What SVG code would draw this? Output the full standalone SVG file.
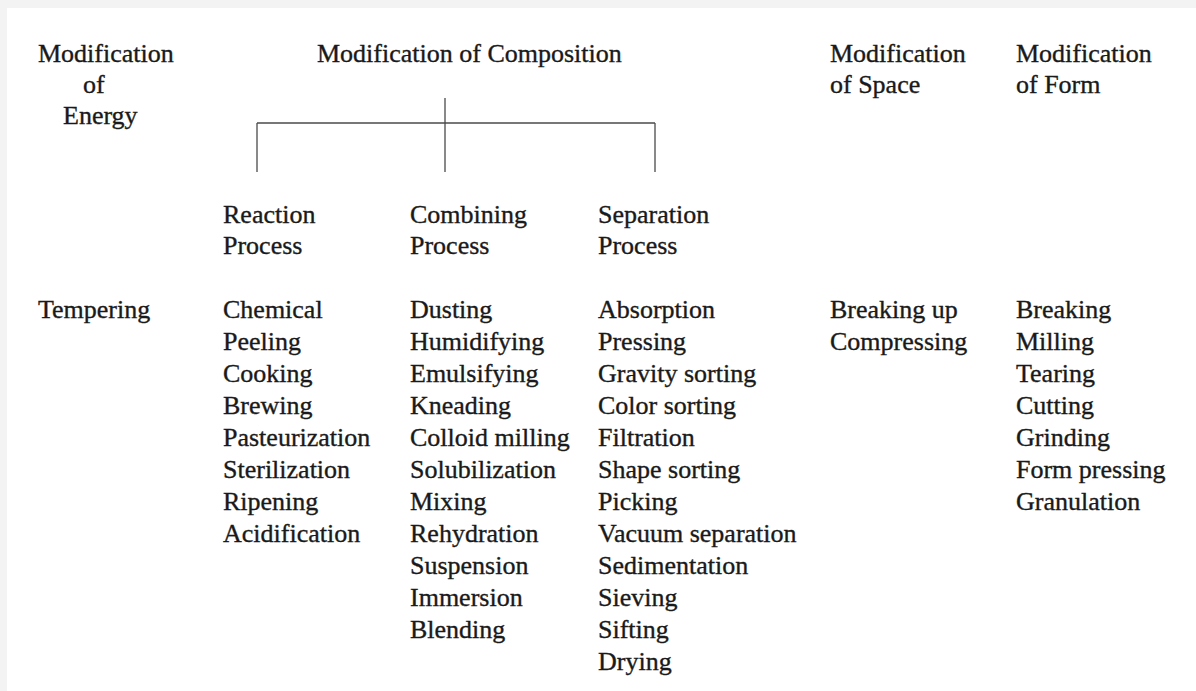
<svg xmlns="http://www.w3.org/2000/svg" width="1196" height="691" viewBox="0 0 1196 691">
  <style>
    text { font-family: "Liberation Serif", "Times New Roman", serif; font-size: 26px; fill: #1a1a1a; stroke: #1a1a1a; stroke-width: 0.35px; }
    .link { stroke: #4a4a4a; stroke-width: 1.3; fill: none; }
  </style>
  <!-- page backdrop -->
  <rect x="0" y="0" width="1196" height="691" fill="#f3f3f3"/>
  <rect x="7" y="8" width="1189" height="683" fill="#ffffff"/>

  <!-- top-level categories -->
  <g id="energy">
    <text x="38" y="62">Modification</text>
    <text x="83" y="93">of</text>
    <text x="63" y="124">Energy</text>
  </g>
  <g id="composition">
    <text x="317" y="62">Modification of Composition</text>
  </g>
  <g id="space">
    <text x="830" y="62">Modification</text>
    <text x="830" y="93">of Space</text>
  </g>
  <g id="form">
    <text x="1016" y="62">Modification</text>
    <text x="1016" y="93">of Form</text>
  </g>

  <!-- bracket splitting composition into three processes -->
  <g id="connectors">
    <path class="link" d="M445 98 V172"/>
    <path class="link" d="M257 123 H655"/>
    <path class="link" d="M257 123 V172"/>
    <path class="link" d="M655 123 V172"/>
  </g>

  <!-- process sub-categories -->
  <g id="reaction">
    <text x="223" y="223">Reaction</text>
    <text x="223" y="254">Process</text>
  </g>
  <g id="combining">
    <text x="410" y="223">Combining</text>
    <text x="410" y="254">Process</text>
  </g>
  <g id="separation">
    <text x="598" y="223">Separation</text>
    <text x="598" y="254">Process</text>
  </g>

  <!-- operation lists -->
  <g id="energy-ops">
    <text x="38" y="318">Tempering</text>
  </g>
  <g id="reaction-ops">
    <text x="223" y="318">Chemical</text>
    <text x="223" y="350">Peeling</text>
    <text x="223" y="382">Cooking</text>
    <text x="223" y="414">Brewing</text>
    <text x="223" y="446">Pasteurization</text>
    <text x="223" y="478">Sterilization</text>
    <text x="223" y="510">Ripening</text>
    <text x="223" y="542">Acidification</text>
  </g>
  <g id="combining-ops">
    <text x="410" y="318">Dusting</text>
    <text x="410" y="350">Humidifying</text>
    <text x="410" y="382">Emulsifying</text>
    <text x="410" y="414">Kneading</text>
    <text x="410" y="446">Colloid milling</text>
    <text x="410" y="478">Solubilization</text>
    <text x="410" y="510">Mixing</text>
    <text x="410" y="542">Rehydration</text>
    <text x="410" y="574">Suspension</text>
    <text x="410" y="606">Immersion</text>
    <text x="410" y="638">Blending</text>
  </g>
  <g id="separation-ops">
    <text x="598" y="318">Absorption</text>
    <text x="598" y="350">Pressing</text>
    <text x="598" y="382">Gravity sorting</text>
    <text x="598" y="414">Color sorting</text>
    <text x="598" y="446">Filtration</text>
    <text x="598" y="478">Shape sorting</text>
    <text x="598" y="510">Picking</text>
    <text x="598" y="542">Vacuum separation</text>
    <text x="598" y="574">Sedimentation</text>
    <text x="598" y="606">Sieving</text>
    <text x="598" y="638">Sifting</text>
    <text x="598" y="670">Drying</text>
  </g>
  <g id="space-ops">
    <text x="830" y="318">Breaking up</text>
    <text x="830" y="350">Compressing</text>
  </g>
  <g id="form-ops">
    <text x="1016" y="318">Breaking</text>
    <text x="1016" y="350">Milling</text>
    <text x="1016" y="382">Tearing</text>
    <text x="1016" y="414">Cutting</text>
    <text x="1016" y="446">Grinding</text>
    <text x="1016" y="478">Form pressing</text>
    <text x="1016" y="510">Granulation</text>
  </g>
</svg>
